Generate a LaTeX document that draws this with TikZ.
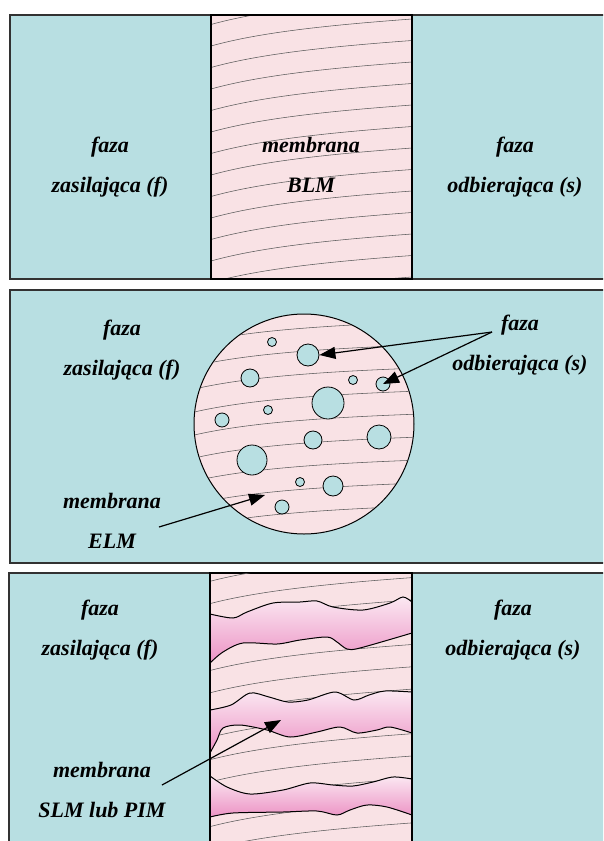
\documentclass[tikz,border=0pt]{standalone}
\usepackage{fontspec}
\setmainfont{Liberation Serif}
\usetikzlibrary{arrows.meta}
\definecolor{phaseblue}{RGB}{184,223,226}
\definecolor{membranepink}{RGB}{249,226,229}
\definecolor{bandtop}{RGB}{251,232,242}
\definecolor{bandpink}{RGB}{236,146,196}
\definecolor{framegray}{RGB}{50,50,50}
\definecolor{hatchgray}{RGB}{90,90,90}

\begin{document}
\begin{tikzpicture}[
    x=1pt, y=-1pt,
    phase/.style={fill=phaseblue, draw=framegray, line width=1.3pt},
    membrane/.style={fill=membranepink, draw=black, line width=1.5pt},
    hatchline/.style={draw=hatchgray, line width=0.55pt},
    phasetext/.style={
        font=\fontsize{22}{40}\selectfont\bfseries\itshape,
        align=center, inner sep=0pt
    },
    droplet/.style={circle, fill=membranepink, draw=black, line width=1pt,
        minimum size=220pt, inner sep=0pt},
    pore/.style={circle, fill=phaseblue, draw=black, line width=0.8pt, inner sep=0pt},
    band/.style={top color=bandtop, bottom color=bandpink, draw=black, line width=1pt},
    pointer/.style={draw=black, line width=1.2pt, -{Triangle[length=16pt,width=12pt]}}
  ]
    \useasboundingbox[fill=white] (0,0) rectangle (603,841);
    \clip (0,0) rectangle (603,841);

    % BLM
    \path[phase] (10,15) rectangle (620,279);
    \path[membrane] (211,15) rectangle (412,279);
    \begin{scope}
        \clip (211,15) rectangle (412,279);
        \foreach \y in {3,24.5,...,310}
            \draw[hatchline] (211,\y) .. controls (261,\y-14) and (331,\y-21) .. (412,\y-27);
    \end{scope}
    \draw[black, line width=1.5pt] (211,15) rectangle (412,279);

    \node[phasetext] (feed1) at (110,167) {faza\\zasilająca (f)};
    \node[phasetext] (blm) at (311,164.5) {membrana\\BLM};
    \node[phasetext] (strip1) at (515,167) {faza\\odbierająca (s)};

    % ELM
    \path[phase] (10,290) rectangle (620,563);
    \node[droplet] (drop) at (304,424) {};
    \begin{scope}
        \clip (drop.center) circle[radius=109.4pt];
        \foreach \y in {298,321,...,560}
            \draw[hatchline] (190,\y) .. controls (240,\y-12) and (310,\y-18) .. (420,\y-22);
    \end{scope}
    \foreach \x/\y/\r [count=\i] in {272/342/4.5, 308/355/11, 250/378/9, 353/380/4.5,
        383/384/7, 328/403/16, 268/410/4.5, 222/420/7, 313/440/9, 379/437/12,
        252/460/15, 300/482/4.5, 333/486/10, 282/507/7}
        \node[pore, minimum size=\r*2pt] (p\i) at (\x,\y) {};

    \node[phasetext] (feed2) at (122,350) {faza\\zasilająca (f)};
    \node[phasetext] (strip2) at (520,345) {faza\\odbierająca (s)};
    \node[phasetext] (elm) at (112,521) {membrana\\ELM};

    \coordinate (sfork) at (492,332);
    \coordinate (elmtail) at (159,527);
    \coordinate (elmtip) at (265,495);
    \draw[pointer] (sfork) -- (p2.east);
    \draw[pointer] (sfork) -- (p5.center);
    \draw[pointer] (elmtail) -- (elmtip);

    % SLM / PIM
    \path[phase] (9,573) rectangle (620,860);
    \path[membrane] (210,573) rectangle (412,860);
    \begin{scope}
        \clip (210,573) rectangle (412,860);
        \foreach \y in {559,581.3,...,880}
            \draw[hatchline] (210,\y) .. controls (260,\y-13) and (330,\y-20) .. (412,\y-26);
        \path[band] plot[smooth] coordinates {(210,614) (233,618) (247,612) (273,603) (300,602)
                (317,601) (333,607) (363,610) (390,603) (403,597) (412,602)}
            -- plot[smooth] coordinates {(412,633) (360,648) (347,649) (337,642) (327,637)
                (300,640) (277,644) (243,643) (223,652) (210,663)} -- cycle;
        \path[band] plot[smooth] coordinates {(210,710) (231,705) (250,693) (269,697) (288,702)
                (308,700) (335,692) (354,700) (369,695) (385,691) (412,692)}
            -- plot[smooth] coordinates {(412,733) (390,727) (377,730) (357,733) (340,727)
                (317,732) (290,737) (267,730) (240,725) (223,728) (217,740) (210,753)} -- cycle;
        \path[band] plot[smooth] coordinates {(210,776) (227,787) (250,794) (283,790) (310,783)
                (333,785) (353,786) (373,782) (393,777) (412,779)}
            -- plot[smooth] coordinates {(412,815) (387,807) (367,805) (350,810) (337,815)
                (317,811) (283,812) (233,813) (210,817)} -- cycle;
    \end{scope}
    \draw[black, line width=1.5pt] (210,573) -- (210,860) (412,573) -- (412,860);

    \node[phasetext] (feed3) at (100,630) {faza\\zasilająca (f)};
    \node[phasetext] (strip3) at (513,630) {faza\\odbierająca (s)};
    \node[phasetext] (slm) at (102,790) {membrana\\SLM lub PIM};

    \coordinate (slmtail) at (162,785);
    \coordinate (slmtip) at (281,720);
    \draw[pointer] (slmtail) -- (slmtip);
\end{tikzpicture}
\end{document}
